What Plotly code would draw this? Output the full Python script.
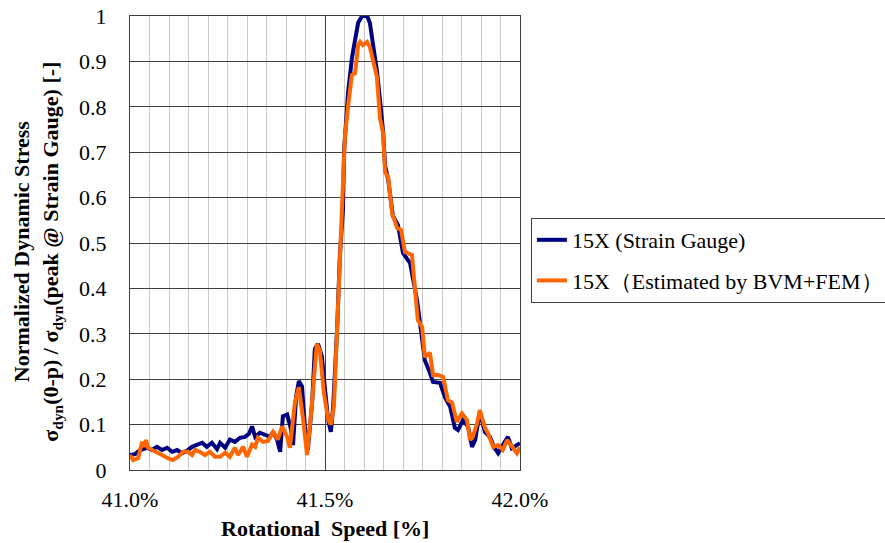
import plotly.graph_objects as go

# Rotational speed [%] and normalized dynamic stress, strain gauge measurement
speed_sg = [41.000, 41.013, 41.026, 41.044, 41.056, 41.069, 41.082, 41.095, 41.108, 41.121,
            41.133, 41.146, 41.159, 41.172, 41.185, 41.197, 41.210, 41.223, 41.231, 41.244,
            41.256, 41.269, 41.282, 41.295, 41.305, 41.313, 41.321, 41.333, 41.346, 41.359,
            41.367, 41.377, 41.385, 41.392, 41.403, 41.413, 41.418, 41.426, 41.433, 41.441,
            41.449, 41.456, 41.467, 41.474, 41.482, 41.492, 41.500, 41.508, 41.515, 41.521,
            41.531, 41.538, 41.546, 41.549, 41.559, 41.569, 41.577, 41.585, 41.595, 41.608,
            41.615, 41.623, 41.633, 41.641, 41.649, 41.654, 41.662, 41.674, 41.687, 41.700,
            41.718, 41.736, 41.744, 41.756, 41.769, 41.777, 41.795, 41.808, 41.821, 41.833,
            41.841, 41.854, 41.867, 41.877, 41.885, 41.897, 41.910, 41.923, 41.933, 41.944,
            41.956, 41.969, 41.979, 41.992, 42.000]
stress_sg = [0.033, 0.035, 0.044, 0.049, 0.044, 0.051, 0.044, 0.049, 0.040, 0.044,
             0.037, 0.042, 0.051, 0.055, 0.060, 0.051, 0.060, 0.046, 0.060, 0.049,
             0.067, 0.062, 0.071, 0.073, 0.080, 0.096, 0.073, 0.082, 0.078, 0.073,
             0.084, 0.067, 0.040, 0.118, 0.122, 0.089, 0.055, 0.162, 0.196, 0.184,
             0.089, 0.044, 0.149, 0.267, 0.278, 0.251, 0.178, 0.111, 0.084, 0.140,
             0.310, 0.470, 0.573, 0.705, 0.830, 0.907, 0.947, 0.985, 1.000, 1.000,
             0.985, 0.940, 0.880, 0.815, 0.745, 0.670, 0.640, 0.560, 0.540, 0.478,
             0.456, 0.374, 0.315, 0.242, 0.214, 0.194, 0.192, 0.159, 0.139, 0.093,
             0.088, 0.110, 0.095, 0.051, 0.066, 0.128, 0.084, 0.073, 0.051, 0.037,
             0.055, 0.073, 0.048, 0.055, 0.059]

# Normalized dynamic stress estimated by BVM+FEM
speed_est = [41.000, 41.008, 41.021, 41.031, 41.036, 41.041, 41.046, 41.056, 41.069, 41.082,
             41.097, 41.110, 41.123, 41.136, 41.149, 41.159, 41.167, 41.179, 41.192, 41.205,
             41.218, 41.231, 41.244, 41.256, 41.269, 41.277, 41.290, 41.300, 41.313, 41.321,
             41.328, 41.341, 41.354, 41.367, 41.379, 41.390, 41.403, 41.410, 41.423, 41.433,
             41.444, 41.454, 41.467, 41.479, 41.487, 41.497, 41.508, 41.515, 41.523, 41.533,
             41.541, 41.546, 41.551, 41.559, 41.569, 41.577, 41.585, 41.590, 41.597, 41.608,
             41.615, 41.623, 41.633, 41.641, 41.649, 41.654, 41.662, 41.672, 41.685, 41.695,
             41.705, 41.723, 41.731, 41.738, 41.749, 41.756, 41.769, 41.777, 41.790, 41.803,
             41.815, 41.826, 41.838, 41.851, 41.864, 41.872, 41.879, 41.890, 41.897, 41.910,
             41.918, 41.931, 41.944, 41.956, 41.967, 41.979, 41.992, 42.000]
stress_est = [0.033, 0.022, 0.026, 0.062, 0.051, 0.066, 0.049, 0.044, 0.037, 0.033,
              0.026, 0.022, 0.029, 0.040, 0.040, 0.033, 0.044, 0.040, 0.033, 0.040,
              0.029, 0.029, 0.038, 0.029, 0.049, 0.033, 0.051, 0.029, 0.056, 0.051,
              0.071, 0.062, 0.064, 0.084, 0.067, 0.096, 0.073, 0.049, 0.149, 0.182,
              0.111, 0.033, 0.150, 0.278, 0.262, 0.171, 0.111, 0.100, 0.140, 0.350,
              0.500, 0.600, 0.733, 0.800, 0.870, 0.874, 0.936, 0.943, 0.936, 0.943,
              0.932, 0.903, 0.866, 0.775, 0.742, 0.656, 0.645, 0.566, 0.533, 0.529,
              0.480, 0.474, 0.403, 0.330, 0.315, 0.249, 0.258, 0.209, 0.209, 0.205,
              0.154, 0.148, 0.106, 0.125, 0.110, 0.066, 0.073, 0.103, 0.132, 0.093,
              0.081, 0.051, 0.055, 0.044, 0.066, 0.051, 0.037, 0.050]

x_tick_vals = [41.0, 41.5, 42.0]
x_tick_text = ["41.0%", "41.5%", "42.0%"]
series_names = ["15X (Strain Gauge)", "15X（Estimated by BVM+FEM）"]

FONT = "Liberation Serif"
DARK = "#404040"

fig = go.Figure()
fig.add_trace(go.Scatter(x=speed_sg, y=stress_sg, mode="lines", name=series_names[0],
                         legendgroup="a", line=dict(color="#000080", width=4)))
fig.add_trace(go.Scatter(x=speed_est, y=stress_est, mode="lines", name=series_names[1],
                         legendgroup="b", line=dict(color="#ff6600", width=4)))

fig.update_layout(
    width=885, height=543,
    margin=dict(l=130, r=365, t=16, b=73, autoexpand=False),
    paper_bgcolor="white", plot_bgcolor="white",
    font=dict(family=FONT, size=22, color="black"),
    showlegend=True,
    legend=dict(x=1.028, y=0.555, xanchor="left", yanchor="top",
                bordercolor=DARK, borderwidth=1, bgcolor="white",
                font=dict(family=FONT, size=22, color="black"),
                tracegroupgap=9, itemwidth=30),
    xaxis=dict(range=[41.0, 42.0], tickmode="array", tickvals=x_tick_vals, ticktext=x_tick_text,
               showgrid=True, gridcolor=DARK, gridwidth=1,
               minor=dict(dtick=0.05, showgrid=True, gridcolor="#c8c8c8", gridwidth=1),
               showline=True, linecolor=DARK, linewidth=1, mirror=True,
               zeroline=False, ticks="", ticklabelstandoff=10,
               tickfont=dict(family=FONT, size=22, color="black")),
    yaxis=dict(range=[0, 1], dtick=0.1, tick0=0,
               showgrid=True, gridcolor=DARK, gridwidth=1,
               showline=True, linecolor=DARK, linewidth=1, mirror=True,
               zeroline=False, ticks="", ticklabelstandoff=18,
               tickfont=dict(family=FONT, size=22, color="black")),
    annotations=[
        dict(text="<b>Normalized Dynamic Stress<br>σ<sub>dyn</sub>(0-p) / σ<sub>dyn</sub>(peak @ Strain Gauge) [-]</b>",
             xref="paper", yref="paper", x=-0.237, y=0.48, xanchor="center", yanchor="middle",
             textangle=-90, showarrow=False, font=dict(family=FONT, size=22, color="black")),
        dict(text="<b>Rotational  Speed [%]</b>",
             xref="paper", yref="paper", x=0.5, y=-0.128, xanchor="center", yanchor="middle",
             showarrow=False, font=dict(family=FONT, size=22, color="black")),
    ],
)

fig.write_html("out.html")
